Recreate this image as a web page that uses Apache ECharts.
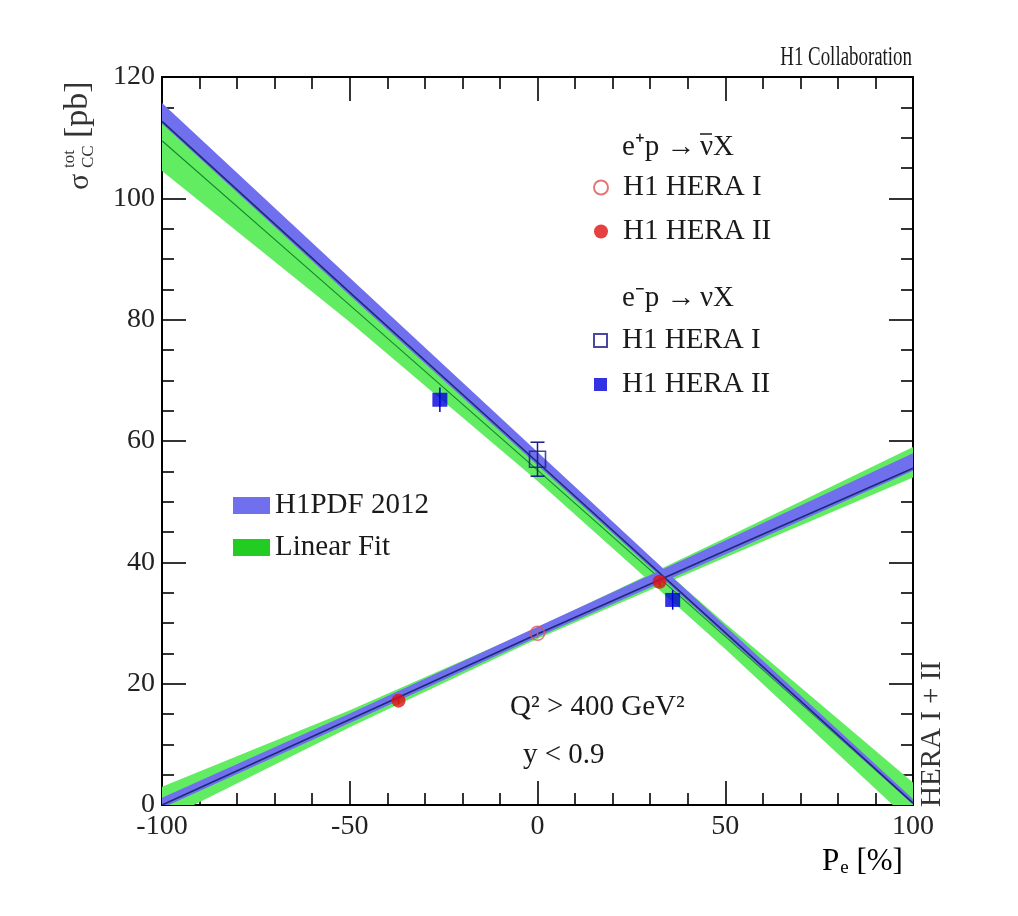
<!DOCTYPE html>
<html>
<head>
<meta charset="utf-8">
<script src="https://cdn.jsdelivr.net/npm/echarts@6/dist/echarts.min.js"></script>
<style>
html,body{margin:0;padding:0;background:#fff;}
#chart{width:1018px;height:916px;}
</style>
</head>
<body>
<div id="chart"></div>
<script>
// ---------------- DATA ----------------
const bandX = [-100, -50, 0, 50, 100];

// e- p -> nu X  (decreasing)
const pdfMinusLo  = [112.3, 84.0, 56.0, 28.0, 0.1];
const pdfMinusHi  = [115.7, 86.9, 58.2, 29.5, 1.0];
const pdfMinusMid = [112.7, 84.5, 56.5, 28.4, 0.3];
const fitMinusLo  = [104.5, 79.6, 53.4, 25.7, -3.1];
const fitMinusHi  = [114.5, 85.2, 57.0, 29.9, 3.7];
const fitMinusMid = [109.5, 82.4, 55.2, 27.8, 0.3];

// e+ p -> nubar X (increasing)
const pdfPlusLo  = [-0.5, 13.5, 27.7, 41.3, 55.1];
const pdfPlusHi  = [1.2, 15.1, 29.4, 43.6, 58.0];
const pdfPlusMid = [0.0, 14.1, 28.2, 41.9, 55.5];
const fitPlusLo  = [-2.6, 12.8, 27.4, 40.8, 54.0];
const fitPlusHi  = [3.0, 15.6, 29.2, 44.0, 59.0];
const fitPlusMid = [0.2, 14.2, 28.3, 42.4, 56.5];

// measurements [Pe, sigma]
const ePlusHERA1 = [[0, 28.3]];
const ePlusHERA1Err = [0.8];
const ePlusHERA2 = [[-37, 17.2], [32.5, 36.8]];
const ePlusHERA2Err = [0.6, 0.8];
const eMinusHERA1 = [[0, 57.0]];
const eMinusHERA1Err = [2.8];
const eMinusHERA2 = [[-26, 66.8], [36, 33.8]];
const eMinusHERA2Err = [2.0, 1.6];

const xMin = -100, xMax = 100, xStep = 50;
const yMin = 0, yMax = 120, yStep = 20;

// ---------------- STYLE ----------------
const FONT = 'Liberation Serif';
const TXT = '#1a1a1a';
const BLUE_BAND = '#7070ee';
const GREEN_BAND = '#62ec62';
const BLUE_LINE = '#1c2a78';
const GREEN_LINE = '#178a2e';
const LEG_GREEN = '#22cc22';

const chart = echarts.init(document.getElementById('chart'));

function clipRect(params) {
  const c = params.coordSys;
  return {type: 'rect', shape: {x: c.x, y: c.y, width: c.width, height: c.height}};
}

function bandSeries(name, lo, hi, color, z) {
  return {
    type: 'custom', name: name, z: z, clip: true,
    color: color,
    itemStyle: {color: color},
    data: bandX.map((x, i) => [x, lo[i], hi[i]]),
    encode: {x: 0, y: [1, 2]},
    silent: true,
    renderItem: function (params, api) {
      if (params.dataIndex !== 0) return null;
      const pts = [];
      for (let i = 0; i < bandX.length; i++) pts.push(api.coord([bandX[i], hi[i]]));
      for (let i = bandX.length - 1; i >= 0; i--) pts.push(api.coord([bandX[i], lo[i]]));
      return {
        type: 'group',
        clipPath: clipRect(params),
        children: [{type: 'polygon', shape: {points: pts}, style: {fill: color}}]
      };
    }
  };
}

function lineSeries(mid, color, width, z) {
  return {
    type: 'line', data: bandX.map((x, i) => [x, mid[i]]),
    showSymbol: false, symbol: 'none', z: z, clip: true, silent: true,
    lineStyle: {color: color, width: width}
  };
}

function errSeries(pts, errs, color, cap, z) {
  return {
    type: 'custom', z: z, clip: true, silent: true,
    data: pts.map((p, i) => [p[0], p[1], errs[i]]),
    encode: {x: 0, y: 1},
    renderItem: function (params, api) {
      const x = api.value(0), y = api.value(1), e = api.value(2);
      const top = api.coord([x, y + e]);
      const bot = api.coord([x, y - e]);
      const children = [{type: 'line', shape: {x1: top[0], y1: top[1], x2: bot[0], y2: bot[1]},
        style: {stroke: color, lineWidth: 1.5}}];
      if (cap > 0) {
        children.push({type: 'line', shape: {x1: top[0] - cap, y1: top[1], x2: top[0] + cap, y2: top[1]}, style: {stroke: color, lineWidth: 1.5}});
        children.push({type: 'line', shape: {x1: bot[0] - cap, y1: bot[1], x2: bot[0] + cap, y2: bot[1]}, style: {stroke: color, lineWidth: 1.5}});
      }
      return {type: 'group', children: children};
    }
  };
}

const axisCommon = {
  type: 'value',
  axisLine: {show: true, onZero: false, lineStyle: {color: '#000', width: 2}},
  axisTick: {show: true, inside: true, length: 24, lineStyle: {color: '#000', width: 1.6}},
  minorTick: {show: true, length: 12, lineStyle: {color: '#000', width: 1.6}},
  splitLine: {show: false},
  minorSplitLine: {show: false},
  axisLabel: {fontFamily: FONT, fontSize: 28, color: '#222'}
};

const legText = {fontFamily: FONT, fontSize: 29, color: TXT, lineHeight: 28, padding: [0, 0, 0, 10]};

const option = {
  backgroundColor: '#fff',
  animation: false,
  grid: {left: 162, right: 105, top: 77, bottom: 111, containLabel: false},
  xAxis: [
    Object.assign({}, axisCommon, {min: xMin, max: xMax, interval: xStep, position: 'bottom',
      minorTick: Object.assign({}, axisCommon.minorTick, {splitNumber: 5}),
      axisLabel: Object.assign({}, axisCommon.axisLabel, {margin: 8})}),
    Object.assign({}, axisCommon, {min: xMin, max: xMax, interval: xStep, position: 'top',
      minorTick: Object.assign({}, axisCommon.minorTick, {splitNumber: 5}),
      axisLabel: {show: false}})
  ],
  yAxis: [
    Object.assign({}, axisCommon, {min: yMin, max: yMax, interval: yStep, position: 'left',
      minorTick: Object.assign({}, axisCommon.minorTick, {splitNumber: 4}),
      axisLabel: Object.assign({}, axisCommon.axisLabel, {margin: 7})}),
    Object.assign({}, axisCommon, {min: yMin, max: yMax, interval: yStep, position: 'right',
      minorTick: Object.assign({}, axisCommon.minorTick, {splitNumber: 4}),
      axisLabel: {show: false}})
  ],
  legend: [
    {
      left: 588, top: 168, orient: 'vertical', itemWidth: 14, itemHeight: 14, itemGap: 15,
      data: [{name: 'e+ H1 HERA I', icon: 'circle'}, {name: 'e+ H1 HERA II', icon: 'circle'}],
      formatter: n => n.replace(/^e[+-] /, ''),
      textStyle: legText,
      selectedMode: false
    },
    {
      left: 588, top: 321, orient: 'vertical', itemWidth: 13, itemHeight: 13, itemGap: 15,
      data: [{name: 'e- H1 HERA I', icon: 'rect'}, {name: 'e- H1 HERA II', icon: 'rect'}],
      formatter: n => n.replace(/^e[+-] /, ''),
      textStyle: legText,
      selectedMode: false
    },
    {
      left: 228, top: 486, orient: 'vertical', itemWidth: 37, itemHeight: 17, itemGap: 13,
      data: [{name: 'H1PDF 2012', icon: 'rect', itemStyle: {color: BLUE_BAND}},
             {name: 'Linear Fit', icon: 'rect', itemStyle: {color: LEG_GREEN}}],
      textStyle: Object.assign({}, legText, {padding: [0, 0, 0, 0]}),
      selectedMode: false
    }
  ],
  series: [
    bandSeries('Linear Fit', fitMinusLo, fitMinusHi, GREEN_BAND, 1),
    bandSeries('Linear Fit ', fitPlusLo, fitPlusHi, GREEN_BAND, 1),
    lineSeries(fitMinusMid, GREEN_LINE, 1.2, 2),
    lineSeries(fitPlusMid, GREEN_LINE, 1.2, 2),
    bandSeries('H1PDF 2012', pdfMinusLo, pdfMinusHi, BLUE_BAND, 3),
    bandSeries('H1PDF 2012 ', pdfPlusLo, pdfPlusHi, BLUE_BAND, 3),
    lineSeries(pdfMinusMid, BLUE_LINE, 1.6, 4),
    lineSeries(pdfPlusMid, BLUE_LINE, 1.6, 4),
    errSeries(ePlusHERA1, ePlusHERA1Err, '#e05555', 0, 5),
    errSeries(ePlusHERA2, ePlusHERA2Err, '#e01010', 0, 5),
    errSeries(eMinusHERA1, eMinusHERA1Err, '#1a1a8a', 7, 5),
    errSeries(eMinusHERA2, eMinusHERA2Err, '#0000cc', 0, 5),
    {
      type: 'scatter', name: 'e+ H1 HERA I', data: ePlusHERA1, symbol: 'circle', symbolSize: 14, z: 6,
      itemStyle: {color: 'rgba(255,255,255,0)', borderColor: '#e05555', borderWidth: 1.6}
    },
    {
      type: 'scatter', name: 'e+ H1 HERA II', data: ePlusHERA2, symbol: 'circle', symbolSize: 14, z: 6,
      itemStyle: {color: '#e01010'}
    },
    {
      type: 'scatter', name: 'e- H1 HERA I', data: eMinusHERA1, symbol: 'rect', symbolSize: 16, z: 6,
      itemStyle: {color: 'rgba(255,255,255,0)', borderColor: '#1a1a8a', borderWidth: 1.6}
    },
    {
      type: 'scatter', name: 'e- H1 HERA II', data: eMinusHERA2, symbol: 'rect', symbolSize: [15, 14], z: 6,
      itemStyle: {color: '#0000dd'}
    }
  ],
  graphic: [
    {type: 'text', x: 912, y: 58, scaleX: 0.7, originX: 0, originY: 0,
      style: {text: 'H1 Collaboration', font: '27px "Liberation Serif"', fill: TXT, align: 'right', verticalAlign: 'middle'}},
    {type: 'text', x: 622, y: 147, style: {text: 'e\u207Ap \u2192', font: '29px "Liberation Serif"', fill: TXT, align: 'left', verticalAlign: 'middle'}},
    {type: 'text', x: 700, y: 147, style: {text: '\u03BDX', font: '29px "Liberation Serif"', fill: TXT, align: 'left', verticalAlign: 'middle'}},
    {type: 'line', shape: {x1: 700, y1: 134, x2: 712, y2: 134}, style: {stroke: TXT, lineWidth: 1.5}},
    {type: 'text', x: 622, y: 298, style: {text: 'e\u207Bp \u2192', font: '29px "Liberation Serif"', fill: TXT, align: 'left', verticalAlign: 'middle'}},
    {type: 'text', x: 700, y: 298, style: {text: '\u03BDX', font: '29px "Liberation Serif"', fill: TXT, align: 'left', verticalAlign: 'middle'}},
    {type: 'text', x: 510, y: 707, style: {text: 'Q\u00B2 > 400 GeV\u00B2', font: '29px "Liberation Serif"', fill: TXT, align: 'left', verticalAlign: 'middle'}},
    {type: 'text', x: 523, y: 755, style: {text: 'y < 0.9', font: '29px "Liberation Serif"', fill: TXT, align: 'left', verticalAlign: 'middle'}},
    {type: 'text', left: 822, top: 846, style: {
      text: '{a|P}{b|e}{a| [%]}',
      rich: {a: {fontFamily: FONT, fontSize: 31, color: TXT},
             b: {fontFamily: FONT, fontSize: 19, color: TXT, verticalAlign: 'bottom', padding: [14, 0, 0, 1]}}
    }},
    {type: 'text', x: 947, y: 807, rotation: Math.PI / 2,
      style: {text: 'HERA I + II', font: '29px "Liberation Serif"', fill: '#333', align: 'left', verticalAlign: 'bottom'}},
    {type: 'group', x: 80, y: 190, rotation: Math.PI / 2, children: [
      {type: 'text', x: 0, y: 0, style: {text: '\u03C3', font: '30px "Liberation Serif"', fill: '#333', align: 'left', verticalAlign: 'middle'}},
      {type: 'text', x: 22, y: -10, style: {text: 'tot', font: '17px "Liberation Serif"', fill: '#333', align: 'left', verticalAlign: 'middle'}},
      {type: 'text', x: 22, y: 9, style: {text: 'CC', font: '17px "Liberation Serif"', fill: '#333', align: 'left', verticalAlign: 'middle'}},
      {type: 'text', x: 52, y: -2, style: {text: '[pb]', font: '34px "Liberation Serif"', fill: '#333', align: 'left', verticalAlign: 'middle'}}
    ]}
  ]
};
chart.setOption(option);
</script>
</body>
</html>
